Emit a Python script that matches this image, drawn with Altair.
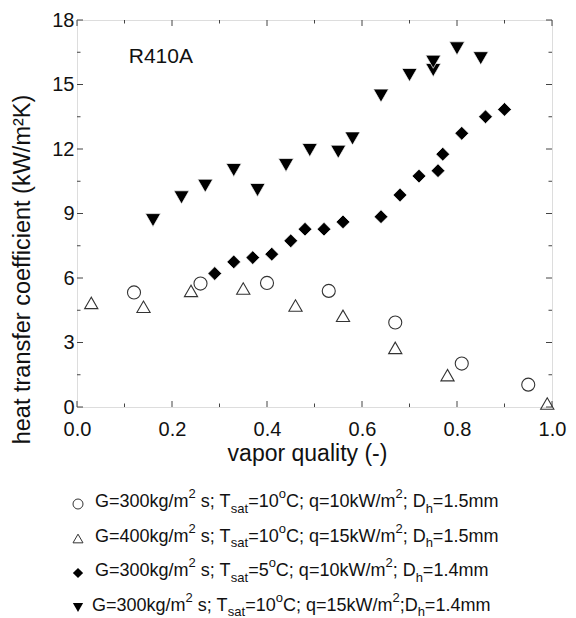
import altair as alt
import pandas as pd

# ---------------- data ----------------
circ_x = [0.12, 0.26, 0.40, 0.53, 0.67, 0.81, 0.95]
circ_y = [5.33, 5.74, 5.77, 5.40, 3.93, 2.02, 1.04]

triup_x = [0.03, 0.14, 0.24, 0.35, 0.46, 0.56, 0.67, 0.78, 0.99]
triup_y = [4.84, 4.66, 5.40, 5.51, 4.72, 4.24, 2.75, 1.48, 0.16]

diam_x = [0.29, 0.33, 0.37, 0.41, 0.45, 0.48, 0.52, 0.56, 0.64, 0.68, 0.72, 0.76, 0.77, 0.81, 0.86, 0.90]
diam_y = [6.21, 6.75, 6.95, 7.11, 7.73, 8.27, 8.27, 8.61, 8.85, 9.86, 10.74, 10.99, 11.76, 12.73, 13.50, 13.84]

tridn_x = [0.16, 0.22, 0.27, 0.33, 0.38, 0.44, 0.49, 0.55, 0.58, 0.64, 0.70, 0.75, 0.75, 0.80, 0.85]
tridn_y = [8.69, 9.75, 10.29, 11.02, 10.09, 11.25, 11.95, 11.87, 12.49, 14.48, 15.44, 15.67, 16.06, 16.68, 16.22]

x_major = [0.0, 0.2, 0.4, 0.6, 0.8, 1.0]
x_minor = [0.1, 0.3, 0.5, 0.7, 0.9]
y_major = [0, 3, 6, 9, 12, 15, 18]
y_minor = [1.5, 4.5, 7.5, 10.5, 13.5, 16.5]

refrigerant = "R410A"

legend_rows = [
    [("G=300kg/m", "n"), ("2", "sup"), (" s; T", "n"), ("sat", "sub"), ("=10", "n"), ("o", "sup"),
     ("C; q=10kW/m", "n"), ("2", "sup"), ("; D", "n"), ("h", "sub"), ("=1.5mm", "n")],
    [("G=400kg/m", "n"), ("2", "sup"), (" s; T", "n"), ("sat", "sub"), ("=10", "n"), ("o", "sup"),
     ("C; q=15kW/m", "n"), ("2", "sup"), ("; D", "n"), ("h", "sub"), ("=1.5mm", "n")],
    [("G=300kg/m", "n"), ("2", "sup"), (" s; T", "n"), ("sat", "sub"), ("=5", "n"), ("o", "sup"),
     ("C; q=10kW/m", "n"), ("2", "sup"), ("; D", "n"), ("h", "sub"), ("=1.4mm", "n")],
    [("G=300kg/m", "n"), ("2", "sup"), (" s; T", "n"), ("sat", "sub"), ("=10", "n"), ("o", "sup"),
     ("C; q=15kW/m", "n"), ("2", "sup"), (";D", "n"), ("h", "sub"), ("=1.4mm", "n")],
]
legend_shapes = ["circle", "triangle-up", "diamond", "triangle-down"]
legend_filled = [False, False, True, True]

# ---------------- layout ----------------
FONT = "Liberation Sans"
PW, PH = 475, 387           # plot area
PAD_L, PAD_T = 69, 12
X0, Y0 = 8 + PAD_L, 8 + PAD_T   # page position of the plot origin
UX = PW / 1.0
UY = PH / 18.0

def to_dx(px):
    return (px - X0) / UX

def to_dy(py):
    return (Y0 + PH - py) / UY

# Arial / Liberation Sans advance widths (per 1000 em)
AW = {"G": 778, "=": 584, "k": 500, "g": 556, "/": 278, "m": 833, " ": 278, "s": 500, ";": 278,
      "T": 611, "a": 556, "t": 278, "o": 556, "C": 722, "q": 556, "W": 944, "D": 722, "h": 556,
      ".": 278}
for d in "0123456789":
    AW[d] = 556

def tw(s, fs):
    return sum(AW[c] for c in s) * fs / 1000.0

F_MAIN, F_SMALL = 18.0, 13.0
row_base = [507.0, 541.5, 576.0, 610.5]
row_x0 = [95, 95, 95, 92]

seg_main, seg_small = [], []
sym_rows = []
for i, row in enumerate(legend_rows):
    x = row_x0[i]
    for txt, kind in row:
        fs = F_MAIN if kind == "n" else F_SMALL
        lead = len(txt) - len(txt.lstrip(" "))
        body = txt.strip(" ")
        xs_ = x + tw(" " * lead, fs)
        if kind == "n":
            yb = row_base[i]
            seg_main.append({"lx": to_dx(xs_), "ly": to_dy(yb), "t": body})
        else:
            yb = row_base[i] - 9 if kind == "sup" else row_base[i] + 5.5
            seg_small.append({"lx": to_dx(xs_), "ly": to_dy(yb), "t": body})
        x += tw(txt, fs)
    sym_rows.append({"lx": to_dx(78), "ly": to_dy(row_base[i] - 3)})

# ---------------- encodings ----------------
xs = alt.Scale(domain=[0, 1], nice=False, zero=False)
ys = alt.Scale(domain=[0, 18], nice=False, zero=False)

x_axis = alt.Axis(values=x_major, format=".1f", title="vapor quality (-)", grid=False, domain=False,
                  ticks=False, tickSize=0, labelFontSize=20, labelPadding=28, labelBaseline="alphabetic",
                  labelFont=FONT, labelColor="#111", labelFlush=False, titleFont=FONT, titleFontSize=23,
                  titleFontWeight="normal", titleColor="#111", titleX=230, titleY=53,
                  titleBaseline="alphabetic")
y_axis = alt.Axis(values=y_major, format="d", title="heat transfer coefficient (kW/m²K)", grid=False,
                  domain=False, ticks=False, tickSize=0, labelFontSize=20, labelPadding=3,
                  labelFont=FONT, labelColor="#111", labelFlush=False, titleFont=FONT, titleFontSize=23.5,
                  titleFontWeight="normal", titleColor="#111", titleX=-55, titleY=249,
                  titleBaseline="middle", titleAngle=270)

def X(f):
    return alt.X(f, type="quantitative", scale=xs, axis=x_axis)

def Y(f):
    return alt.Y(f, type="quantitative", scale=ys, axis=y_axis)

def pts(xv, yv, shape, filled, size):
    df = pd.DataFrame({"x": xv, "y": yv})
    if filled:
        m = alt.Chart(df).mark_point(shape=shape, filled=True, fill="#000", stroke="#fff",
                                     strokeWidth=0.7, opacity=1, size=size)
    else:
        m = alt.Chart(df).mark_point(shape=shape, filled=False, stroke="#333", strokeWidth=1.1,
                                     opacity=1, size=size)
    return m.encode(x=X("x"), y=Y("y"))

TICK_C = "#444"

def xticks(vals, length):
    df = pd.DataFrame({"v": vals})
    b = alt.Chart(df).mark_rule(color=TICK_C, strokeWidth=1)
    return [b.encode(x=X("v"), y=alt.value(PH), y2=alt.value(PH - length)),
            b.encode(x=X("v"), y=alt.value(0), y2=alt.value(length))]

def yticks(vals, length):
    df = pd.DataFrame({"v": vals})
    b = alt.Chart(df).mark_rule(color=TICK_C, strokeWidth=1)
    return [b.encode(y=Y("v"), x=alt.value(0), x2=alt.value(length)),
            b.encode(y=Y("v"), x=alt.value(PW), x2=alt.value(PW - length))]

layers = []
layers += xticks(x_major, 6) + xticks(x_minor, 3.5)
layers += yticks(y_major, 6) + yticks(y_minor, 3.5)

layers.append(pts(circ_x, circ_y, "circle", False, 170))
layers.append(pts(triup_x, triup_y, "triangle-up", False, 175))
layers.append(pts(diam_x, diam_y, "diamond", True, 190))
layers.append(pts(tridn_x, tridn_y, "triangle-down", True, 230))

ann = pd.DataFrame({"x": [0.109], "y": [15.99], "t": [refrigerant]})
layers.append(alt.Chart(ann).mark_text(align="left", baseline="alphabetic", font=FONT, fontSize=21,
                                       color="#111").encode(x=X("x"), y=Y("y"), text="t:N"))

# legend
for i, shp in enumerate(legend_shapes):
    d = pd.DataFrame([sym_rows[i]])
    if legend_filled[i]:
        mk = alt.Chart(d).mark_point(shape=shp, filled=True, fill="#000", opacity=1, size=105)
    else:
        mk = alt.Chart(d).mark_point(shape=shp, filled=False, stroke="#333", strokeWidth=1, opacity=1, size=100)
    layers.append(mk.encode(x=X("lx"), y=Y("ly")))

layers.append(alt.Chart(pd.DataFrame(seg_main)).mark_text(align="left", baseline="alphabetic", font=FONT,
                                                          fontSize=F_MAIN, color="#111")
              .encode(x=X("lx"), y=Y("ly"), text="t:N"))
layers.append(alt.Chart(pd.DataFrame(seg_small)).mark_text(align="left", baseline="alphabetic", font=FONT,
                                                           fontSize=F_SMALL, color="#111")
              .encode(x=X("lx"), y=Y("ly"), text="t:N"))

chart = (alt.layer(*layers)
         .properties(width=PW, height=PH,
                     autosize=alt.AutoSizeParams(type="none"),
                     padding={"left": PAD_L, "top": PAD_T, "right": 16, "bottom": 211})
         .configure_view(stroke="#555", strokeWidth=1.2)
         .configure(background="white"))

chart.save("out.html", embed_options={"renderer": "svg", "actions": False})
